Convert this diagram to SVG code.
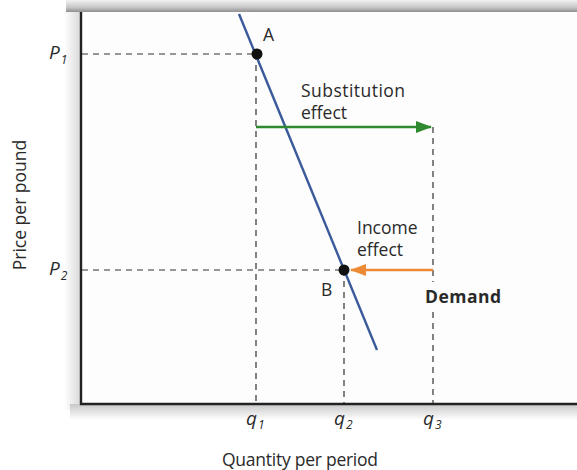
<svg xmlns="http://www.w3.org/2000/svg" width="577" height="470" viewBox="0 0 577 470">
<defs>
<linearGradient id="gTop" x1="0" y1="0" x2="0" y2="1"><stop offset="0" stop-color="#f2f2f2"/><stop offset="0.6" stop-color="#c8c8c8"/><stop offset="1" stop-color="#8f8f8f"/></linearGradient>
<linearGradient id="gLeft" x1="0" y1="0" x2="1" y2="0"><stop offset="0" stop-color="#ffffff"/><stop offset="1" stop-color="#d8d8d8"/></linearGradient>
<linearGradient id="gBot" x1="0" y1="0" x2="0" y2="1"><stop offset="0" stop-color="#c8c8c8"/><stop offset="1" stop-color="#ffffff"/></linearGradient>
<marker id="ag" viewBox="0 0 16 12" refX="15" refY="6" markerWidth="16" markerHeight="12" orient="auto" markerUnits="userSpaceOnUse"><path d="M0,0 L16,6 L0,12 z" fill="#2f8a2f"/></marker>
<marker id="ao" viewBox="0 0 16 12" refX="15" refY="6" markerWidth="16" markerHeight="12" orient="auto" markerUnits="userSpaceOnUse"><path d="M0,0 L16,6 L0,12 z" fill="#ec8a35"/></marker>
</defs>
<style>
text{font-family:"Open Sans","DejaVu Sans",sans-serif;fill:#2a2a2a}
.lbl{font-size:17.5px}
.it{font-style:italic;font-size:19px}
.sub{font-style:italic;font-size:12px}
.dash{stroke:#333;stroke-width:1.2;stroke-dasharray:6,5;fill:none}
</style>
<rect x="0" y="0" width="577" height="470" fill="#ffffff"/>
<g id="frame">
<rect x="66" y="0" width="511" height="12" fill="url(#gTop)"/>
<rect x="64" y="12" width="17" height="398" fill="url(#gLeft)"/>
<rect x="70" y="404" width="507" height="16" fill="url(#gBot)"/>
<rect x="81" y="12" width="496" height="392" fill="#fdfdfd"/>
<path d="M81,12 L81,404 L577,404" fill="none" stroke="#222" stroke-width="2.4"/>
</g>
<g id="connectors">
<path class="dash" d="M82,54 L257,54"/>
<path class="dash" d="M82,270 L344,270"/>
<path class="dash" d="M256,54 L256,403"/>
<path class="dash" d="M344,270 L344,403"/>
<path class="dash" d="M433,127 L433,282"/>
<path class="dash" d="M433,312 L433,403"/>
<line id="demand" x1="239" y1="14" x2="377" y2="350" stroke="#3a5a9a" stroke-width="2.4"/>
<line id="subst-arrow" x1="256" y1="127" x2="431" y2="127" stroke="#2f8a2f" stroke-width="2.6" marker-end="url(#ag)"/>
<line id="income-arrow" x1="433" y1="270" x2="351" y2="270" stroke="#ec8a35" stroke-width="2.6" marker-end="url(#ao)"/>
</g>
<g id="pointA"><circle cx="257" cy="54" r="5.5" fill="#111"/><text class="lbl" x="263" y="41">A</text></g>
<g id="pointB"><circle cx="344" cy="270" r="5.5" fill="#111"/><text class="lbl" x="321" y="296">B</text></g>
<g id="labels">
<text class="lbl" x="301" y="97" textLength="104">Substitution</text>
<text class="lbl" x="301" y="119">effect</text>
<text class="lbl" x="357" y="234">Income</text>
<text class="lbl" x="357" y="256">effect</text>
<text class="lbl" x="425" y="303" font-weight="bold" textLength="76">Demand</text>
<text class="it" x="49" y="59">P<tspan class="sub" dx="1" dy="5">1</tspan></text>
<text class="it" x="49" y="275">P<tspan class="sub" dx="1" dy="5">2</tspan></text>
<text class="it" x="246" y="425">q<tspan class="sub" dx="1" dy="4">1</tspan></text>
<text class="it" x="334" y="425">q<tspan class="sub" dx="1" dy="4">2</tspan></text>
<text class="it" x="423" y="425">q<tspan class="sub" dx="1" dy="4">3</tspan></text>
<text class="lbl" x="222" y="466" textLength="156">Quantity  per period</text>
<text class="lbl" transform="translate(26,205) rotate(-90)" text-anchor="middle">Price per pound</text>
</g>
</svg>
